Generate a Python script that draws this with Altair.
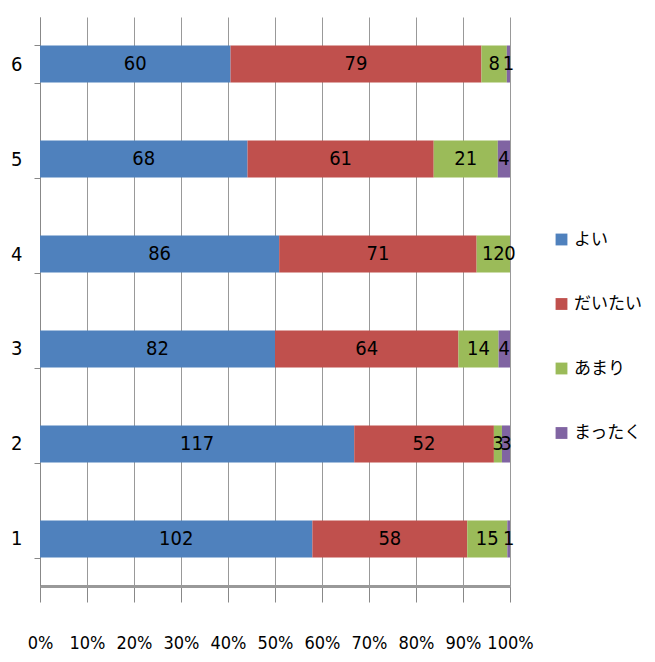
import altair as alt
import pandas as pd

categories = ["1", "2", "3", "4", "5", "6"]
series = ["よい", "だいたい", "あまり", "まったく"]
colors = ["#4F81BD", "#C0504D", "#9BBB59", "#8064A2"]
values = {
    "よい":     [102, 117, 82, 86, 68, 60],
    "だいたい": [58, 52, 64, 71, 61, 79],
    "あまり":   [15, 3, 14, 12, 21, 8],
    "まったく": [1, 3, 4, 0, 4, 1],
}

rows = []
for si, s in enumerate(series):
    for ci, c in enumerate(categories):
        rows.append({"category": c, "series": s, "order": si, "value": values[s][ci]})
df = pd.DataFrame(rows)

FONT = "Liberation Sans Narrow, DejaVu Sans Condensed, DejaVu Sans, sans-serif"
LFONT = "Noto Sans CJK JP, sans-serif"
ysort = list(reversed(categories))

base = alt.Chart(df).transform_stack(
    stack="value",
    groupby=["category"],
    as_=["x0", "x1"],
    offset="normalize",
    sort=[alt.SortField("order", order="ascending")],
).transform_calculate(mid="(datum.x0 + datum.x1) / 2")

bars = base.mark_bar(strokeWidth=0, opacity=1).encode(
    y=alt.Y("category:N", sort=ysort, title=None,
            scale=alt.Scale(paddingInner=0.61, paddingOuter=0.3),
            axis=alt.Axis(tickBand="extent", labelFontSize=20, labelFont=FONT,
                          labelColor="#000000", labelPadding=12, tickSize=6,
                          tickColor="#888888", domainColor="#888888",
                          domainWidth=1, grid=False)),
    x=alt.X("x0:Q", title=None,
            scale=alt.Scale(domain=[0, 1], nice=False),
            axis=alt.Axis(format="%", values=[i / 10 for i in range(11)],
                          labelFontSize=18, labelFont=FONT, labelColor="#000000",
                          labelOverlap=False, labelFlush=False,
                          labelPadding=32, tickSize=16, tickColor="#888888",
                          domainColor="#999999", domainWidth=3,
                          grid=True, gridColor="#999999", gridWidth=1)),
    x2="x1:Q",
    color=alt.Color("series:N", sort=series,
                    scale=alt.Scale(domain=series, range=colors),
                    legend=alt.Legend(title=None, orient="none", legendX=513, legendY=214,
                                      symbolType="square", symbolSize=140,
                                      symbolStrokeWidth=0, labelFontSize=17,
                                      labelFont=LFONT, labelColor="#000000",
                                      rowPadding=46.5, labelOffset=4,
                                      labelLimit=200)),
    order=alt.Order("order:Q"),
)

labels = base.mark_text(font=FONT, fontSize=20, color="#000000").encode(
    y=alt.Y("category:N", sort=ysort),
    x=alt.X("mid:Q"),
    text=alt.Text("value:Q"),
)

chart = alt.layer(bars, labels).properties(
    width=470, height=569,
    padding={"left": 32, "top": 9, "right": 137, "bottom": 66},
    autosize=alt.AutoSizeParams(type="none"),
).configure_view(stroke=None)

chart.save("out.html", embed_options={"renderer": "svg", "actions": False})
